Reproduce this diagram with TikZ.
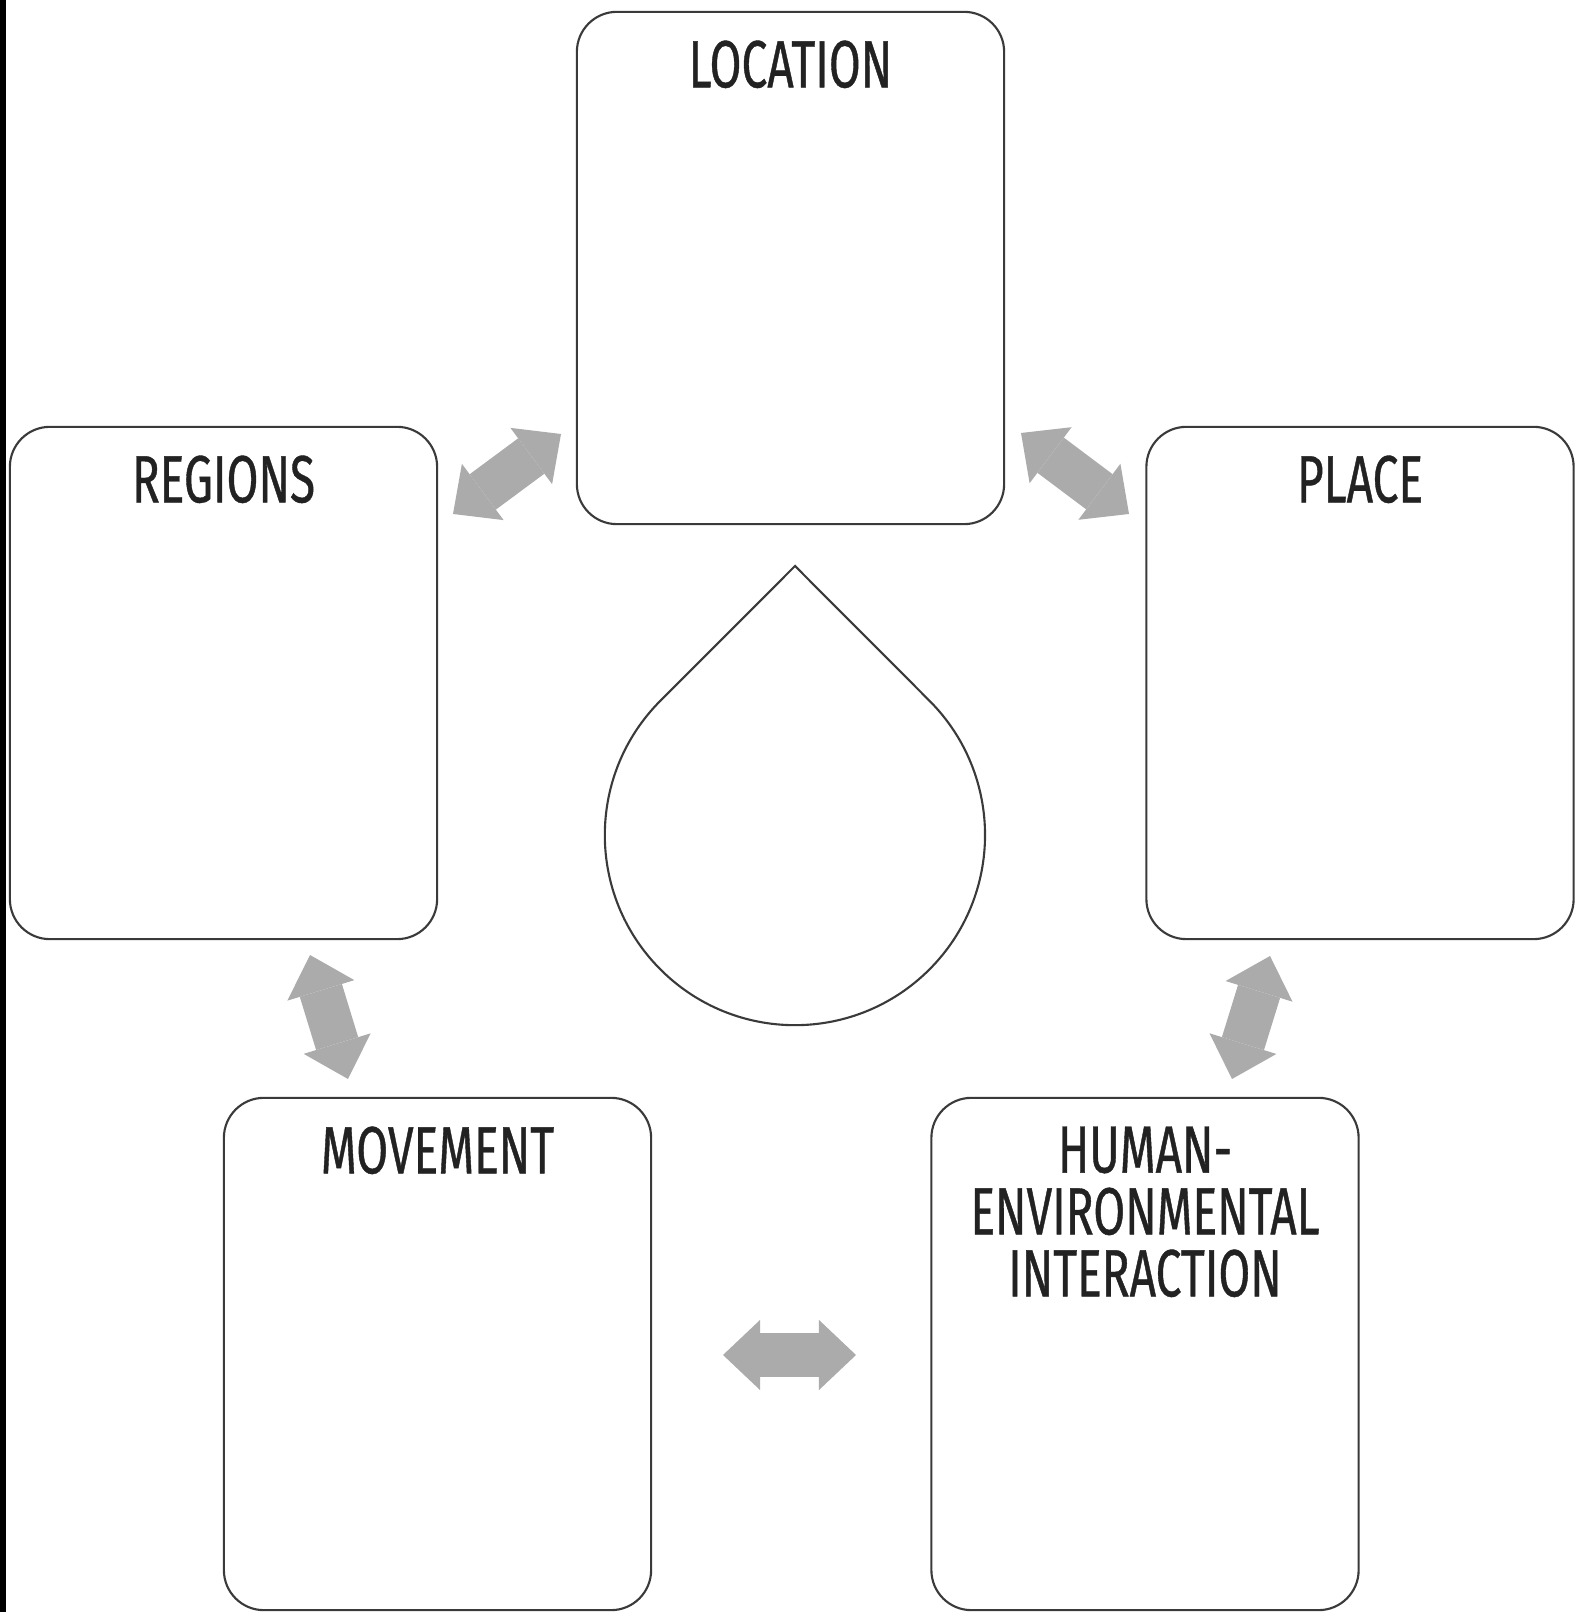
\documentclass[tikz,border=0pt]{standalone}
\usepackage{fontspec}
\setmainfont{Fira Sans}[FakeStretch=0.69, FakeBold=0.6]
\usetikzlibrary{arrows.meta,positioning}
\definecolor{boxline}{HTML}{3A3A3A}
\definecolor{arrowgray}{HTML}{ABABAB}
\definecolor{labelink}{HTML}{222222}
\begin{document}
\begin{tikzpicture}[x=0.01cm, y=0.01cm,
  themebox/.style={draw=boxline, line width=0.6pt, rounded corners=0.4cm,
    minimum width=4.27cm, minimum height=5.12cm, inner sep=0pt},
  themelabel/.style={font=\fontsize{19pt}{17.6pt}\selectfont, text=labelink,
    inner sep=0pt, align=center},
  linkarrow/.style={color=arrowgray, line width=0.44cm,
    {Triangle[length=0.37cm, width=0.7cm, line width=0pt]}-{Triangle[length=0.37cm, width=0.7cm, line width=0pt]}}
]

% Frame
\useasboundingbox (0,0) rectangle (1578,1612);
\fill[black] (0,0) rectangle (6,1612);

% Theme boxes
\node[themebox] (location) at (790.5,1344) {};
\node[themebox] (regions) at (223.5,929) {};
\node[themebox] (place) at (1360,929) {};
\node[themebox] (movement) at (437.5,258) {};
\node[themebox] (human) at (1145,258) {};

% Titles
\node[themelabel, below=0.29cm of location.north] (locationlabel) {LOCATION};
\node[themelabel, below=0.29cm of regions.north] (regionslabel) {REGIONS};
\node[themelabel, below=0.29cm of place.north] (placelabel) {PLACE};
\node[themelabel, below=0.29cm of movement.north] (movementlabel) {MOVEMENT};
\node[themelabel, below=0.29cm of human.north] (humanlabel) {HUMAN-\\ENVIRONMENTAL\\INTERACTION};

% Centre drop
\coordinate (dropcentre) at (795,777);
\coordinate (droptip) at (795,1046);
\draw[boxline, line width=0.6pt] (droptip) -- ([shift={(45:190)}]dropcentre)
  arc[start angle=45, end angle=-225, radius=1.9cm] -- cycle;

% Double arrows between themes
\coordinate (rlA) at (453,1098); \coordinate (rlB) at (561,1178);
\coordinate (lpA) at (1021,1179); \coordinate (lpB) at (1129,1098);
\coordinate (rmA) at (310,657); \coordinate (rmB) at (348,533);
\coordinate (phA) at (1270,656); \coordinate (phB) at (1232,533);
\coordinate (mhA) at (723,257); \coordinate (mhB) at (856,257);
\draw[linkarrow] (rlA) -- (rlB);
\draw[linkarrow] (lpA) -- (lpB);
\draw[linkarrow] (rmA) -- (rmB);
\draw[linkarrow] (phA) -- (phB);
\draw[linkarrow] (mhA) -- (mhB);

\end{tikzpicture}
\end{document}
